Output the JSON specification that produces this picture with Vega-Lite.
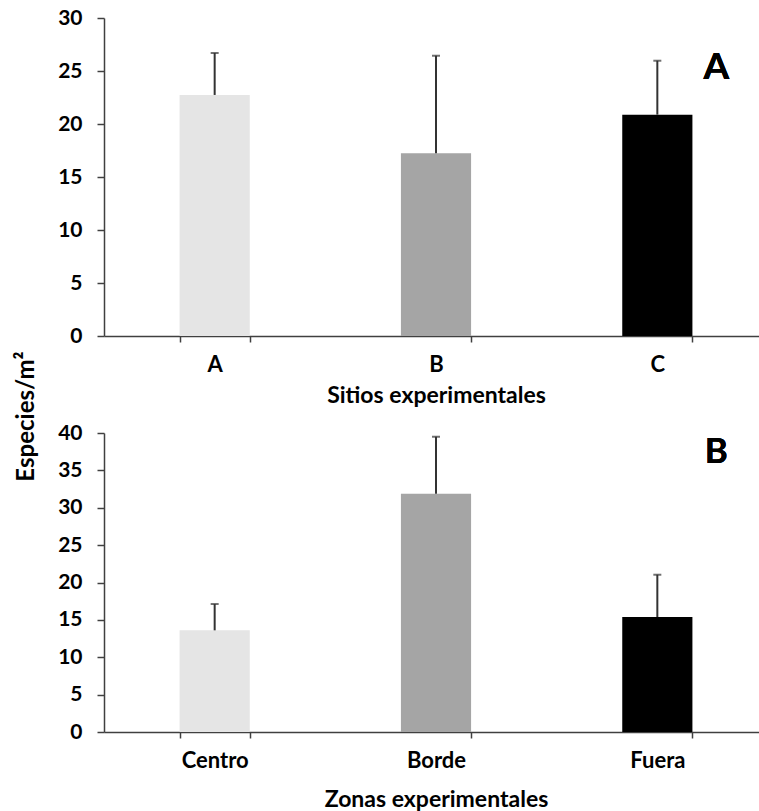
{
  "$schema": "https://vega.github.io/schema/vega-lite/v6.json",
  "padding": {"left": 14, "top": 7, "right": 0, "bottom": 0},
  "bounds": "flush",
  "spacing": 97,
  "config": {
    "view": {"stroke": null},
    "font": "Lato",
    "axis": {
      "domainColor": "#404040",
      "domainWidth": 1.5,
      "tickColor": "#404040",
      "tickWidth": 1.5,
      "labelColor": "#000000",
      "titleColor": "#000000",
      "labelFont": "Lato",
      "titleFont": "Lato",
      "labelFontWeight": "bold",
      "titleFontWeight": "bold",
      "labelOverlap": false,
      "grid": false
    }
  },
  "datasets": {
    "sitios": [
      {"grupo": "A", "media": 22.74, "lim": 26.7},
      {"grupo": "B", "media": 17.23, "lim": 26.44},
      {"grupo": "C", "media": 20.88, "lim": 25.97}
    ],
    "zonas": [
      {"grupo": "Centro", "media": 13.6, "lim": 17.12},
      {"grupo": "Borde", "media": 31.88, "lim": 39.5},
      {"grupo": "Fuera", "media": 15.38, "lim": 21.04}
    ]
  },
  "vconcat": [
    {
      "width": 664,
      "height": 318,
      "data": {"name": "sitios"},
      "encoding": {
        "x": {
          "field": "grupo",
          "type": "nominal",
          "sort": ["A", "B", "C"],
          "scale": {"paddingInner": 0.683, "paddingOuter": 0.3415},
          "axis": {
            "title": "Sitios experimentales",
            "labelAngle": 0,
            "labelFontSize": 22,
            "titleFontSize": 23,
            "tickSize": 6,
            "tickBand": "extent",
            "labelPadding": 12,
            "titlePadding": 9
          }
        }
      },
      "layer": [
        {
          "mark": {"type": "bar"},
          "encoding": {
            "y": {
              "field": "media",
              "type": "quantitative",
              "scale": {"domain": [0, 30], "nice": false},
              "axis": {"values": [0, 5, 10, 15, 20, 25, 30], "labelFontSize": 21, "tickSize": 7, "labelPadding": 15, "title": "Especies/m²", "titleFontSize": 24, "titleAngle": -90, "titleX": -78, "titleY": 398, "titleAlign": "center", "titleBaseline": "middle"}
            },
            "color": {
              "field": "grupo",
              "type": "nominal",
              "scale": {"domain": ["A", "B", "C"], "range": ["#e5e5e5", "#a5a5a5", "#000000"]},
              "legend": null
            }
          }
        },
        {
          "mark": {"type": "rule", "color": "#333333", "strokeWidth": 2},
          "encoding": {
            "y": {"field": "media", "type": "quantitative", "axis": {"values": [0, 5, 10, 15, 20, 25, 30], "labelFontSize": 21, "tickSize": 7, "labelPadding": 15, "title": "Especies/m²", "titleFontSize": 24, "titleAngle": -90, "titleX": -78, "titleY": 398, "titleAlign": "center", "titleBaseline": "middle"}},
            "y2": {"field": "lim"}
          }
        },
        {
          "mark": {"type": "tick", "color": "#333333", "size": 8, "thickness": 2, "orient": "horizontal"},
          "encoding": {
            "y": {"field": "lim", "type": "quantitative", "axis": {"values": [0, 5, 10, 15, 20, 25, 30], "labelFontSize": 21, "tickSize": 7, "labelPadding": 15, "title": "Especies/m²", "titleFontSize": 24, "titleAngle": -90, "titleX": -78, "titleY": 398, "titleAlign": "center", "titleBaseline": "middle"}}
          }
        },
        {
          "mark": {"type": "text", "fontSize": 37, "fontWeight": "bold", "color": "#000000", "dx": 59, "baseline": "middle", "align": "center"},
          "encoding": {
            "x": {"datum": "C", "type": "nominal"},
            "y": {"datum": 25.25, "type": "quantitative", "axis": {"values": [0, 5, 10, 15, 20, 25, 30], "labelFontSize": 21, "tickSize": 7, "labelPadding": 15, "title": "Especies/m²", "titleFontSize": 24, "titleAngle": -90, "titleX": -78, "titleY": 398, "titleAlign": "center", "titleBaseline": "middle"}},
            "text": {"value": "A"}
          }
        }
      ]
    },
    {
      "width": 664,
      "height": 299,
      "data": {"name": "zonas"},
      "encoding": {
        "x": {
          "field": "grupo",
          "type": "nominal",
          "sort": ["Centro", "Borde", "Fuera"],
          "scale": {"paddingInner": 0.683, "paddingOuter": 0.3415},
          "axis": {
            "title": "Zonas experimentales",
            "labelAngle": 0,
            "labelFontSize": 22,
            "titleFontSize": 23,
            "tickSize": 6,
            "tickBand": "extent",
            "labelPadding": 12,
            "titlePadding": 17
          }
        }
      },
      "layer": [
        {
          "mark": {"type": "bar"},
          "encoding": {
            "y": {
              "field": "media",
              "type": "quantitative",
              "scale": {"domain": [0, 40], "nice": false},
              "axis": {"values": [0, 5, 10, 15, 20, 25, 30, 35, 40], "labelFontSize": 21, "tickSize": 7, "labelPadding": 15, "title": ""}
            },
            "color": {
              "field": "grupo",
              "type": "nominal",
              "scale": {"domain": ["Centro", "Borde", "Fuera"], "range": ["#e5e5e5", "#a5a5a5", "#000000"]},
              "legend": null
            }
          }
        },
        {
          "mark": {"type": "rule", "color": "#333333", "strokeWidth": 2},
          "encoding": {
            "y": {"field": "media", "type": "quantitative", "axis": {"values": [0, 5, 10, 15, 20, 25, 30, 35, 40], "labelFontSize": 21, "tickSize": 7, "labelPadding": 15, "title": ""}},
            "y2": {"field": "lim"}
          }
        },
        {
          "mark": {"type": "tick", "color": "#333333", "size": 8, "thickness": 2, "orient": "horizontal"},
          "encoding": {
            "y": {"field": "lim", "type": "quantitative", "axis": {"values": [0, 5, 10, 15, 20, 25, 30, 35, 40], "labelFontSize": 21, "tickSize": 7, "labelPadding": 15, "title": ""}}
          }
        },
        {
          "mark": {"type": "text", "fontSize": 35, "fontWeight": "bold", "color": "#000000", "dx": 59, "baseline": "middle", "align": "center"},
          "encoding": {
            "x": {"datum": "Fuera", "type": "nominal"},
            "y": {"datum": 37.4, "type": "quantitative", "axis": {"values": [0, 5, 10, 15, 20, 25, 30, 35, 40], "labelFontSize": 21, "tickSize": 7, "labelPadding": 15, "title": ""}},
            "text": {"value": "B"}
          }
        }
      ]
    }
  ]
}
